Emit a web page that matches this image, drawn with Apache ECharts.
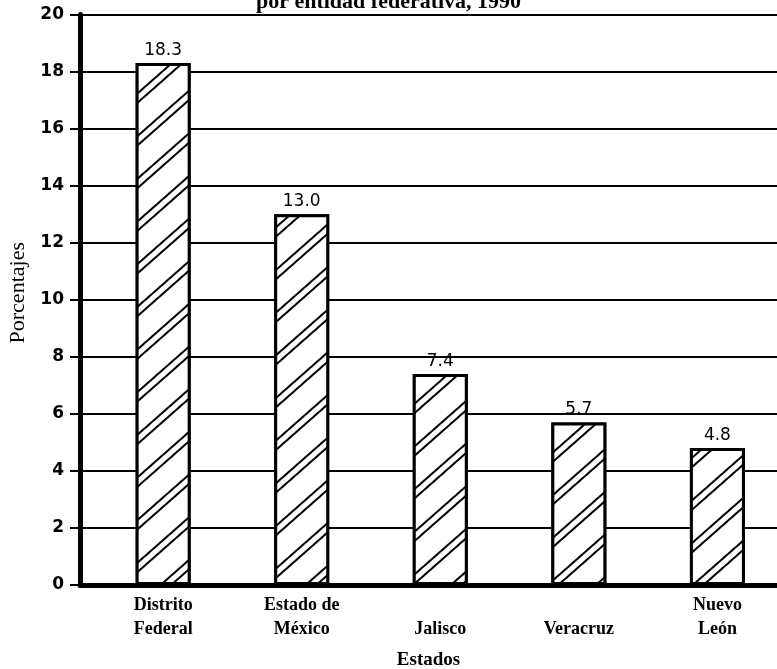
<!DOCTYPE html>
<html>
<head>
<meta charset="utf-8">
<script src="https://cdn.jsdelivr.net/npm/echarts@6/dist/echarts.min.js"></script>
<style>html,body{margin:0;padding:0;background:#fff}#c{width:777px;height:669px}</style>
</head>
<body>
<div id="c"></div>
<script>
const titleText = 'por entidad federativa, 1990';
const categories = ['Distrito\nFederal', 'Estado de\nMéxico', '\nJalisco', '\nVeracruz', 'Nuevo\nLeón'];
const values = [18.3, 13.0, 7.4, 5.7, 4.8];
const yTicks = [0, 2, 4, 6, 8, 10, 12, 14, 16, 18, 20];
const xAxisName = 'Estados';
const yAxisName = 'Porcentajes';

const chart = echarts.init(document.getElementById('c'), null, {renderer: 'canvas'});
const serif = 'Liberation Serif';
const sans = 'DejaVu Sans';
chart.setOption({
  backgroundColor: '#fff',
  animation: false,
  title: {
    text: titleText, left: 'center', top: -14,
    textStyle: {fontFamily: serif, fontSize: 22, fontWeight: 'bold', color: '#000'}
  },
  grid: {left: 80, right: 0, top: 14.5, bottom: 84, outerBoundsMode: 'none', containLabel: false},
  xAxis: {
    type: 'value', min: -0.6, max: 4.43,
    name: xAxisName, nameLocation: 'middle', nameGap: 66,
    nameTextStyle: {fontFamily: serif, fontSize: 19, fontWeight: 'bold', color: '#000'},
    axisLine: {show: true, onZero: true, lineStyle: {color: '#000', width: 5}},
    axisTick: {show: false},
    splitLine: {show: false},
    axisLabel: {
      customValues: categories.map((c, i) => i),
      formatter: v => categories[Math.round(v)] || '',
      fontFamily: serif, fontSize: 18, fontWeight: 'bold', color: '#000', lineHeight: 24, margin: 8
    }
  },
  yAxis: {
    type: 'value', min: 0, max: 20, interval: 2,
    name: yAxisName, nameLocation: 'middle', nameGap: 48, nameRotate: 90,
    nameTextStyle: {fontFamily: serif, fontSize: 22, color: '#000', padding: [0, 0, 0, 14]},
    axisLine: {show: true, onZero: false, lineStyle: {color: '#000', width: 5}},
    axisTick: {show: true, length: 10, lineStyle: {color: '#000', width: 2}},
    splitLine: {show: true, lineStyle: {color: '#000', width: 2}},
    axisLabel: {
      customValues: yTicks,
      fontFamily: sans, fontSize: 17, fontWeight: 'bold', color: '#000', margin: 16
    }
  },
  series: [{
    type: 'bar',
    data: values.map((v, i) => [i, v]),
    barWidth: 55,
    itemStyle: {
      color: '#fff', borderColor: '#000', borderWidth: 3,
      decal: {
        symbol: 'rect', symbolSize: 1, color: '#000', backgroundColor: '#fff',
        dashArrayX: [1, 0], dashArrayY: [1.5, 4.5, 1.5, 23], rotation: -Math.PI * 0.23
      }
    },
    label: {
      show: true, position: 'top', distance: 4,
      formatter: p => p.value[1].toFixed(1),
      fontFamily: sans, fontSize: 17, color: '#000'
    }
  }]
});
</script>
</body>
</html>
